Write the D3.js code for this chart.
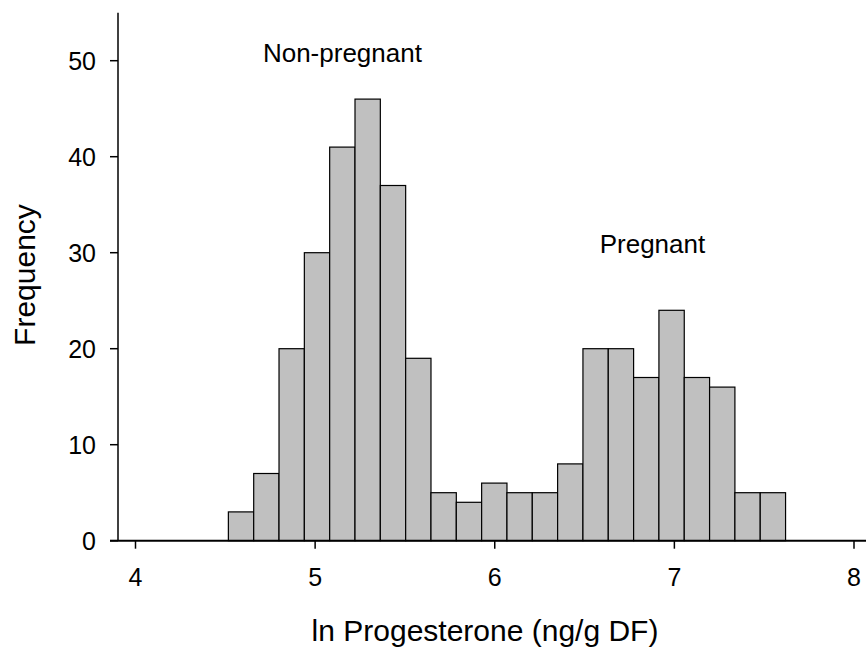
<!DOCTYPE html>
<html>
<head>
<meta charset="utf-8">
<script src="https://cdn.jsdelivr.net/npm/d3@7"></script>
<style>
  html, body { margin: 0; padding: 0; background: #fff; }
  svg { display: block; font-family: Arial, "Liberation Sans", sans-serif; }
</style>
</head>
<body>
<svg id="chart" width="866" height="654"></svg>
<script>
// Histogram bin boundaries (ln progesterone, ng/g DF)
const binEdges = [4.517, 4.658, 4.799, 4.940, 5.081, 5.222, 5.363, 5.504, 5.645, 5.786,
                  5.927, 6.068, 6.209, 6.350, 6.491, 6.632, 6.773, 6.914, 7.055, 7.196,
                  7.337, 7.478, 7.619];
// Counts per bin
const counts = [3, 7, 20, 30, 41, 46, 37, 19, 5, 4, 6, 5, 5, 8, 20, 20, 17, 24, 17, 16, 5, 5];

const xTicks = [4, 5, 6, 7, 8];
const yTicks = [0, 10, 20, 30, 40, 50];

const groupLabels = [
  { text: "Non-pregnant", x: 5.152, y: 49.9 },
  { text: "Pregnant", x: 6.878, y: 29.94 }
];

const svg = d3.select("#chart");

// Plot region
const x = d3.scaleLinear().domain([4, 8]).range([135.5, 854]);
const y = d3.scaleLinear().domain([0, 55]).range([540.7, 12.7]);
const xAxisLeft = 110, xAxisRight = 866;
const yAxisX = 118;

const bins = counts.map((c, i) => ({ x0: binEdges[i], x1: binEdges[i + 1], count: c }));

// Bars
svg.append("g")
  .selectAll("rect")
  .data(bins)
  .join("rect")
  .attr("x", d => x(d.x0))
  .attr("y", d => y(d.count))
  .attr("width", d => x(d.x1) - x(d.x0))
  .attr("height", d => y(0) - y(d.count))
  .attr("fill", "#c0c0c0")
  .attr("stroke", "#000")
  .attr("stroke-width", 1.2);

// X axis
const xAxis = svg.append("g").attr("transform", `translate(0,${y(0)})`);
xAxis.append("line")
  .attr("x1", xAxisLeft).attr("x2", xAxisRight)
  .attr("y1", 0).attr("y2", 0)
  .attr("stroke", "#000").attr("stroke-width", 2);
xAxis.selectAll(".xt")
  .data(xTicks)
  .join("line")
  .attr("x1", d => x(d)).attr("x2", d => x(d))
  .attr("y1", 0).attr("y2", 8)
  .attr("stroke", "#000").attr("stroke-width", 1.5);
xAxis.selectAll(".xl")
  .data(xTicks)
  .join("text")
  .attr("x", d => x(d))
  .attr("y", 45)
  .attr("text-anchor", "middle")
  .attr("font-size", 25)
  .attr("fill", "#000")
  .text(d => d);

// Y axis
const yAxis = svg.append("g");
yAxis.append("line")
  .attr("x1", yAxisX).attr("x2", yAxisX)
  .attr("y1", y(55)).attr("y2", y(0))
  .attr("stroke", "#000").attr("stroke-width", 1.5);
yAxis.selectAll(".yt")
  .data(yTicks)
  .join("line")
  .attr("x1", yAxisX - 8).attr("x2", yAxisX)
  .attr("y1", d => y(d)).attr("y2", d => y(d))
  .attr("stroke", "#000").attr("stroke-width", 1.5);
yAxis.selectAll(".yl")
  .data(yTicks)
  .join("text")
  .attr("x", 96)
  .attr("y", d => y(d) + 9.5)
  .attr("text-anchor", "end")
  .attr("font-size", 25)
  .attr("fill", "#000")
  .text(d => d);

// Axis titles
svg.append("text")
  .attr("x", 485)
  .attr("y", 641)
  .attr("text-anchor", "middle")
  .attr("font-size", 30)
  .attr("fill", "#000")
  .text("ln Progesterone (ng/g DF)");

svg.append("text")
  .attr("transform", "translate(35,275) rotate(-90)")
  .attr("text-anchor", "middle")
  .attr("font-size", 30)
  .attr("fill", "#000")
  .text("Frequency");

// Group annotations
svg.append("g")
  .selectAll("text")
  .data(groupLabels)
  .join("text")
  .attr("x", d => x(d.x))
  .attr("y", d => y(d.y))
  .attr("text-anchor", "middle")
  .attr("font-size", 26)
  .attr("fill", "#000")
  .text(d => d.text);
</script>
</body>
</html>
